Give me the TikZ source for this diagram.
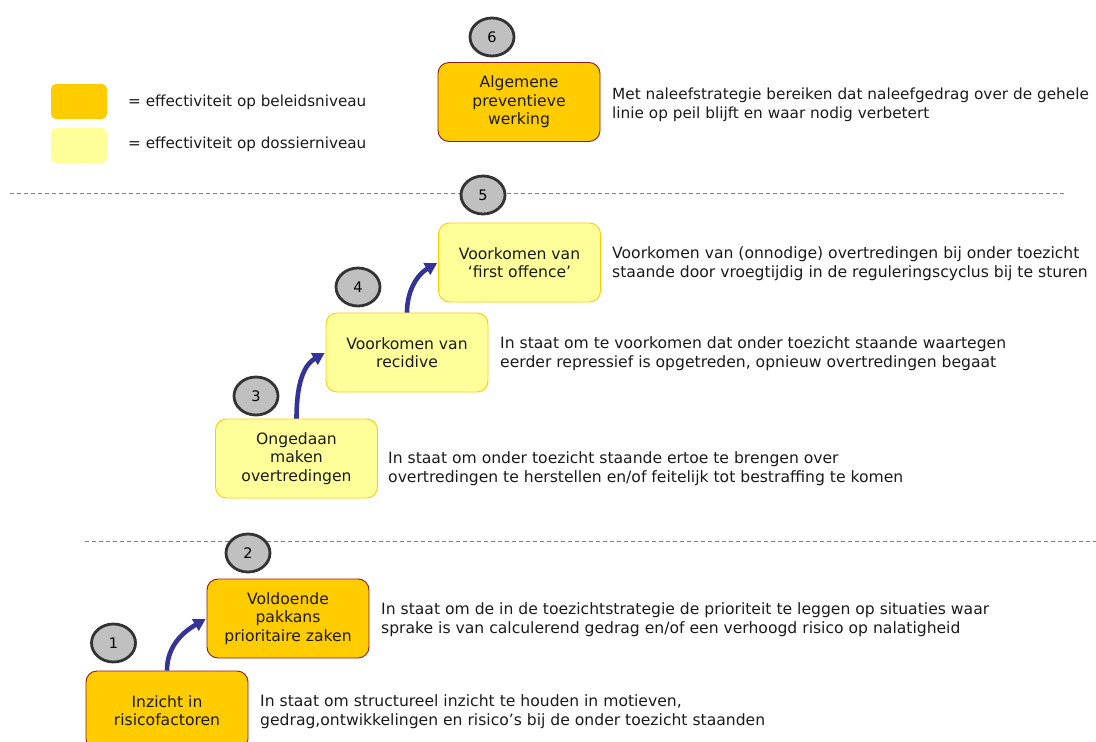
\documentclass[tikz,border=0pt]{standalone}
\usepackage{fontspec}
\setmainfont{DejaVu Sans}
\usetikzlibrary{shapes.geometric,arrows.meta}
\definecolor{orangebox}{HTML}{FFCC00}
\definecolor{yellowbox}{HTML}{FFFF99}
\definecolor{redborder}{HTML}{8B1A1A}
\definecolor{goldborder}{HTML}{FFCC00}
\definecolor{arrowblue}{HTML}{333399}
\definecolor{circfill}{HTML}{C0C0C0}
\definecolor{circline}{HTML}{333333}
\definecolor{dashgray}{HTML}{808080}
\definecolor{txt}{HTML}{1A1A1A}
\tikzset{
  beleid/.style={draw=redborder, line width=0.9pt, fill=orangebox, rounded corners=11pt,
    minimum width=162pt, minimum height=79pt, inner sep=0pt, align=center,
    font=\fontsize{15.6}{18.5}\selectfont, text=txt},
  dossier/.style={draw=goldborder, line width=0.9pt, fill=yellowbox, rounded corners=11pt,
    minimum width=162pt, minimum height=79pt, inner sep=0pt, align=center,
    font=\fontsize{15.6}{18.5}\selectfont, text=txt},
  legbox/.style={rounded corners=5pt, minimum width=56pt, minimum height=35pt, inner sep=0pt},
  numcirc/.style={ellipse, draw=circline, line width=2.8pt, fill=circfill,
    minimum width=44pt, minimum height=38pt, inner sep=0pt, font=\fontsize{14.5}{16}\selectfont},
  desc/.style={anchor=west, align=left, inner sep=0pt, font=\fontsize{15.6}{19}\selectfont, text=txt},
  legtext/.style={anchor=west, inner sep=0pt, font=\fontsize{15.2}{17}\selectfont, text=txt},
  divider/.style={draw=dashgray, line width=0.8pt, dash pattern=on 4pt off 3pt},
  arr/.style={draw=arrowblue, line width=4.6pt, -{Triangle[length=12pt,width=13pt]}, shorten >=1pt}
}
\begin{document}
\begin{tikzpicture}[x=1pt,y=-1pt]
\useasboundingbox (0,0) rectangle (1096,742);
\begin{scope}
\clip (0,0) rectangle (1096,742);
% legend
\node[legbox, fill=orangebox] (lg1) at (79,101.5) {};
\node[legbox, fill=yellowbox] (lg2) at (79,145.5) {};
\node[legtext] (lt1) at (128,102) {= effectiviteit op beleidsniveau};
\node[legtext] (lt2) at (128,144) {= effectiviteit op dossierniveau};
% dividers
\coordinate (d1a) at (10,193);
\coordinate (d1b) at (1065,193);
\coordinate (d2a) at (85,541);
\coordinate (d2b) at (1096,541);
\draw[divider] (d1a) -- (d1b);
\draw[divider] (d2a) -- (d2b);
% boxes
\node[beleid] (b6) at (519,102) {Algemene\\preventieve\\werking};
\node[dossier] (b5) at (519.5,262.5) {Voorkomen van\\‘first offence’};
\node[dossier] (b4) at (407,352.5) {Voorkomen van\\recidive};
\node[dossier] (b3) at (296.5,458.5) {Ongedaan\\maken\\overtredingen};
\node[beleid] (b2) at (288,618.5) {Voldoende\\pakkans\\prioritaire zaken};
\node[beleid] (b1) at (167,710.5) {Inzicht in\\risicofactoren};
% number circles
\node[numcirc] (c6) at (492,37) {6};
\node[numcirc] (c5) at (483,195) {5};
\node[numcirc] (c4) at (358,287) {4};
\node[numcirc] (c3) at (256,396) {3};
\node[numcirc] (c2) at (248,553) {2};
\node[numcirc] (c1) at (113.5,643) {1};
% arrows
\draw[arr] (b1.north) to[out=90,in=210] (b2.west);
\draw[arr] (b3.north) to[out=90,in=210] (b4.west);
\draw[arr] (b4.north) to[out=90,in=210] (b5.west);
% descriptions
\node[desc, font=\fontsize{15.3}{19}\selectfont] (t6) at (612,105) {Met naleefstrategie bereiken dat naleefgedrag over de gehele\\linie op peil blijft en waar nodig verbetert};
\node[desc] (t5) at (612,264) {Voorkomen van (onnodige) overtredingen bij onder toezicht\\staande door vroegtijdig in de reguleringscyclus bij te sturen};
\node[desc] (t4) at (500,354) {In staat om te voorkomen dat onder toezicht staande waartegen\\eerder repressief is opgetreden, opnieuw overtredingen begaat};
\node[desc] (t3) at (388,469) {In staat om onder toezicht staande ertoe te brengen over\\overtredingen te herstellen en/of feitelijk tot bestraffing te komen};
\node[desc] (t2) at (381,620) {In staat om de in de toezichtstrategie de prioriteit te leggen op situaties waar\\sprake is van calculerend gedrag en/of een verhoogd risico op nalatigheid};
\node[desc] (t1) at (260,712) {In staat om structureel inzicht te houden in motieven,\\gedrag,ontwikkelingen en risico’s bij de onder toezicht staanden};
\end{scope}
\end{tikzpicture}
\end{document}
